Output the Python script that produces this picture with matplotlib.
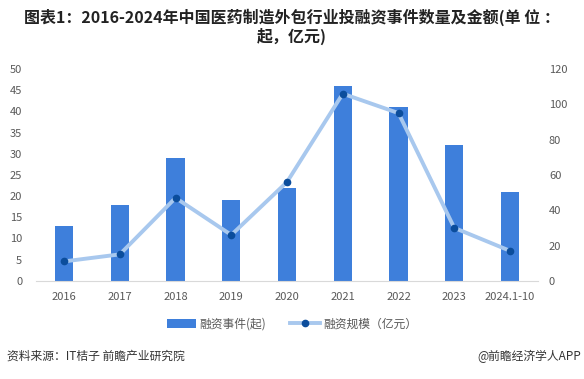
import matplotlib.pyplot as plt
import numpy as np

plt.rcParams['font.family'] = ['Noto Sans CJK SC', 'DejaVu Sans']

years = ['2016', '2017', '2018', '2019', '2020', '2021', '2022', '2023', '2024.1-10']
events = [13, 18, 29, 19, 22, 46, 41, 32, 21]
amount = [11, 15, 47, 26, 56, 106, 95, 30, 17]

bar_color = '#3E7FDB'
line_color = '#A8C8EE'
marker_color = '#0B4D9C'
tick_color = '#595959'

fig = plt.figure(figsize=(5.84, 3.79), dpi=100)
ax = fig.add_axes([0.062, 0.259, 0.859, 0.559])
ax2 = ax.twinx()

x = np.arange(len(years))
ax.bar(x, events, width=0.33, color=bar_color, zorder=2, label='融资事件(起)')
ax2.plot(x, amount, color=line_color, linewidth=2.8, marker='o', markersize=4.5,
         markerfacecolor=marker_color, markeredgecolor=marker_color, zorder=3,
         label='融资规模（亿元）')

ax.set_xlim(-0.5, len(years) - 0.5)
ax.set_ylim(0, 50)
ax.set_yticks(range(0, 51, 5))
ax2.set_ylim(0, 120)
ax2.set_yticks(range(0, 121, 20))
ax.set_xticks(x)
ax.set_xticklabels(years)

for a in (ax, ax2):
    for s in ('top', 'left', 'right', 'bottom'):
        a.spines[s].set_visible(False)
    a.tick_params(length=0, labelsize=8, colors=tick_color)
ax.spines['bottom'].set_visible(True)
ax.spines['bottom'].set_color('#D9D9D9')
ax.tick_params(axis='x', pad=8)
ax.tick_params(axis='y', pad=10)
ax2.tick_params(axis='y', pad=8)

ax.set_zorder(ax2.get_zorder() - 1)
ax.patch.set_visible(False)

h1, l1 = ax.get_legend_handles_labels()
h2, l2 = ax2.get_legend_handles_labels()
fig.legend(h1 + h2, l1 + l2, loc='center', bbox_to_anchor=(0.5, 0.145), ncol=2,
           frameon=False, fontsize=8.5, labelcolor=tick_color, handlelength=2.5,
           handletextpad=0.3, columnspacing=2.0)

fig.text(0.5, 0.955, '图表1：2016-2024年中国医药制造外包行业投融资事件数量及金额(单 位 ：',
         ha='center', va='center', fontsize=11.5, fontweight='bold', color='#222222')
fig.text(0.5, 0.905, '起，亿元)', ha='center', va='center', fontsize=11.5,
         fontweight='bold', color='#222222')

fig.text(0.012, 0.06, '资料来源：IT桔子 前瞻产业研究院', ha='left', va='center',
         fontsize=8.5, color='#333333')
fig.text(0.995, 0.06, '@前瞻经济学人APP', ha='right', va='center',
         fontsize=8.5, color='#333333')

fig.savefig('out.png', dpi=100)
